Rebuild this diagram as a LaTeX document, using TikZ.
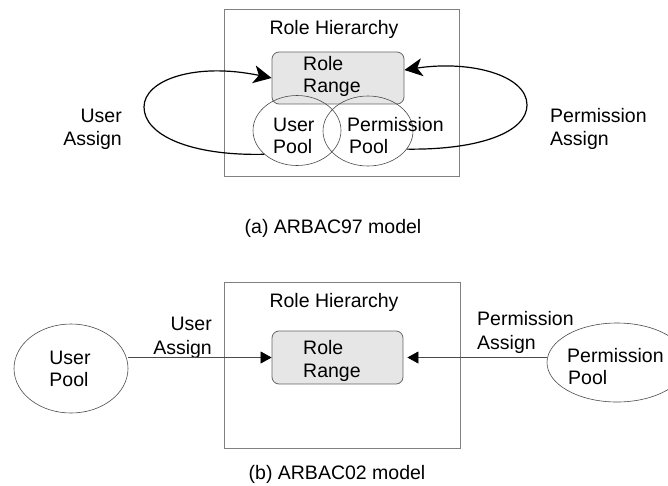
\documentclass[tikz,border=0pt]{standalone}
\usepackage{fontspec}
\setmainfont{Liberation Sans}
\usetikzlibrary{arrows.meta,shapes.geometric}
\definecolor{boxgray}{HTML}{808080}
\definecolor{poolgray}{HTML}{4A4A4A}
\definecolor{rrfill}{HTML}{E6E6E6}
\tikzset{
  lbl/.style={font=\fontsize{19.5}{22}\selectfont, inner sep=0pt, text=black},
  hbox/.style={draw=boxgray, line width=0.9pt, inner sep=0pt},
  rrbox/.style={draw=boxgray!80!black, fill=rrfill, rounded corners=7pt, line width=0.8pt, inner sep=0pt},
  pool/.style={ellipse, draw=poolgray, line width=0.6pt, inner sep=0pt},
  assigncurve/.style={draw=black, line width=1.2pt, -{Stealth[length=18pt,width=18pt,inset=5pt]}},
  assignline/.style={draw=poolgray, line width=0.7pt, -{Triangle[length=11pt,width=12pt,color=black]}}
}
\begin{document}
\begin{tikzpicture}[x=1pt,y=-1pt]
\useasboundingbox (0,0) rectangle (668,485);
% ---------- (a) ARBAC97 ----------
\node[hbox, minimum width=235pt, minimum height=167pt] (rh) at (341.5,92.5) {};
\node[lbl, anchor=base] (rhl) at (334,34) {Role Hierarchy};
\node[rrbox, minimum width=132pt, minimum height=52pt] (rr) at (338,78) {};
\node[lbl, anchor=base west] (rr1) at (303,70) {Role};
\node[lbl, anchor=base west] (rr2t) at (303,92) {Range};
\node[pool, minimum width=88pt, minimum height=70pt] (up) at (297,130.5) {};
\node[pool, minimum width=90pt, minimum height=70pt] (pp) at (368,131) {};
\node[lbl, anchor=base west] (up1) at (273,131) {User};
\node[lbl, anchor=base west] (up2t) at (273,153) {Pool};
\node[lbl, anchor=base west] (pp1) at (347,131) {Permission};
\node[lbl, anchor=base west] (pp2t) at (349,153) {Pool};
\node[lbl, anchor=base east] (ua1) at (122,122) {User};
\node[lbl, anchor=base east] (ua2) at (122,145) {Assign};
\node[lbl, anchor=base west] (pa1) at (550,122) {Permission};
\node[lbl, anchor=base west] (pa2) at (550,145) {Assign};
\draw[assigncurve] (up.216) .. controls (190,156) and (144,135) .. (144,107)
  .. controls (144,80) and (195,62) .. (rr.west);
\draw[assigncurve] (pp.-25) .. controls (480,150) and (527,132) .. (527,105)
  .. controls (527,75) and (470,60) .. ([yshift=8pt]rr.east);
\node[lbl, anchor=base] (capa) at (333,233) {(a) ARBAC97 model};
% ---------- (b) ARBAC02 ----------
\node[hbox, minimum width=236pt, minimum height=166pt] (rhb) at (342,365) {};
\node[lbl, anchor=base] (rhbl) at (334,307) {Role Hierarchy};
\node[rrbox, minimum width=131pt, minimum height=53pt] (rrb) at (337.5,357.5) {};
\node[lbl, anchor=base west] (rrb1) at (303,354) {Role};
\node[lbl, anchor=base west] (rrb2) at (303,377) {Range};
\node[pool, minimum width=114pt, minimum height=89pt] (upb) at (71,368.5) {};
\node[lbl, anchor=base] (upb1) at (70,364) {User};
\node[lbl, anchor=base] (upb2) at (69,386) {Pool};
\node[pool, minimum width=140pt, minimum height=79pt] (ppb) at (617,362.5) {};
\node[lbl, anchor=base west] (ppb1) at (567,362) {Permission};
\node[lbl, anchor=base west] (ppb2) at (568,384) {Pool};
\node[lbl, anchor=base east] (uab1) at (212,330) {User};
\node[lbl, anchor=base east] (uab2) at (212,354) {Assign};
\node[lbl, anchor=base west] (pab1) at (477,325) {Permission};
\node[lbl, anchor=base west] (pab2) at (477,349) {Assign};
\draw[assignline] (upb.east |- rrb.west) -- (rrb.west);
\draw[assignline, shorten >=4pt] (ppb.west |- rrb.east) -- (rrb.east);
\node[lbl, anchor=base] (capb) at (337,479) {(b) ARBAC02 model};
\end{tikzpicture}
\end{document}
